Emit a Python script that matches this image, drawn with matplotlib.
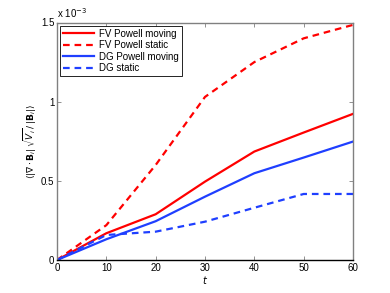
import matplotlib.pyplot as plt
import numpy as np

plt.rcParams.update({
    "font.family": ["Liberation Sans", "DejaVu Sans"],
    "font.size": 7,
    "mathtext.fontset": "dejavusans",
})

t = [0, 10, 20, 30, 40, 50, 60]
fv_moving = [0, 0.169, 0.289, 0.495, 0.685, 0.805, 0.923]
fv_static = [0, 0.22, 0.60, 1.03, 1.25, 1.40, 1.485]
dg_moving = [0, 0.131, 0.245, 0.40, 0.548, 0.647, 0.748]
dg_static = [0, 0.158, 0.179, 0.242, 0.33, 0.417, 0.417]
labels = ["FV Powell moving", "FV Powell static", "DG Powell moving", "DG static"]

RED = "#ff0000"
BLUE = "#1f3fff"
GREY = "#808080"

fig = plt.figure(figsize=(3.9, 2.93), dpi=100)
ax = fig.add_axes([57 / 390, 1 - 260 / 293, 296 / 390, 237.5 / 293])

ax.plot(t, fv_moving, color=RED, lw=1.6, label=labels[0])
ax.plot(t, fv_static, color=RED, lw=1.6, ls=(0, (3, 2.2)), label=labels[1])
ax.plot(t, dg_moving, color=BLUE, lw=1.6, label=labels[2])
ax.plot(t, dg_static, color=BLUE, lw=1.6, ls=(0, (3, 2.2)), label=labels[3])

ax.set_xlim(0, 60)
ax.set_ylim(0, 1.5)
ax.set_xticks([0, 10, 20, 30, 40, 50, 60])
ax.set_yticks([0, 0.5, 1, 1.5])
ax.set_yticklabels(["0", "0.5", "1", "1.5"])
ax.tick_params(direction="in", top=True, right=True, length=3, width=0.6,
               color=GREY, labelsize=7, pad=2)
for s in ax.spines.values():
    s.set_color(GREY)
    s.set_linewidth(1.0)
ax.spines["bottom"].set_color("black")

ax.set_xlabel("$t$", fontsize=7, labelpad=1)
ax.set_ylabel(r"$\langle|\nabla\cdot\mathbf{B}_i|\,\sqrt{V_i}\,/\,|\mathbf{B}_i|\rangle$",
              fontsize=6.5, labelpad=1)
ax.text(0, 1.012, r"x 10$^{-3}$", transform=ax.transAxes, fontsize=7,
        ha="left", va="bottom")

leg = ax.legend(loc="upper left", fontsize=7, handlelength=3.2, handletextpad=0.5,
                borderaxespad=0.35, labelspacing=0.15, borderpad=0.3,
                fancybox=False, framealpha=1)
leg.get_frame().set_edgecolor("black")
leg.get_frame().set_linewidth(0.6)

fig.savefig("out.png", dpi=100)
